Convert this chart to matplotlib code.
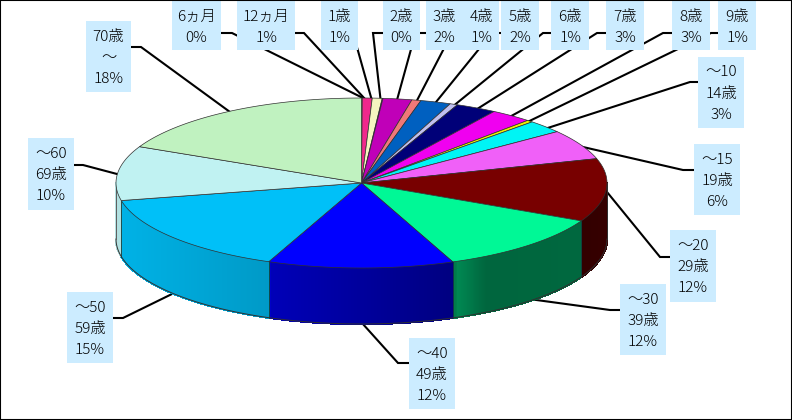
import numpy as np
import matplotlib
matplotlib.use("Agg")
import matplotlib.pyplot as plt
from matplotlib.patches import Rectangle

plt.rcParams['font.family'] = ['Noto Sans CJK JP', 'DejaVu Sans']

# slice shares in percent (clockwise from 12 o'clock)
values = [0.05, 0.65, 0.65, 0.05, 1.9, 0.6, 2.0, 0.5, 2.7, 2.75, 0.4, 2.45,
          5.7, 12.0, 11.6, 12.25, 15.55, 10.35, 18.0]
colors = ['#FF9900', '#F0288C', '#F5F5C0', '#CC99FF', '#C000B8', '#F07878',
          '#0060C0', '#C0C0F0', '#000078', '#F000F0', '#F0F000', '#00F5F5',
          '#F060F8', '#780000', '#00F896', '#0000FF', '#00C0F8', '#C0F2F2',
          '#C0F2C0']
labels = [['6ヵ月', '0%'], ['12ヵ月', '1%'], ['1歳', '1%'], ['2歳', '0%'],
          ['3歳', '2%'], ['4歳', '1%'], ['5歳', '2%'], ['6歳', '1%'],
          ['7歳', '3%'], ['8歳', '3%'], ['9歳', '1%'],
          ['～10', '14歳', '3%'], ['～15', '19歳', '6%'],
          ['～20', '29歳', '12%'], ['～30', '39歳', '12%'],
          ['～40', '49歳', '12%'], ['～50', '59歳', '15%'],
          ['～60', '69歳', '10%'], ['70歳', '～', '18%']]

# label boxes: left, top, width, height in pixels
boxes = [(172, 0, 49, 50), (237, 0, 58, 50), (321, 0, 37, 50), (383, 0, 37, 50),
         (426, 0, 37, 50), (463, 0, 36, 50), (501, 0, 38, 50), (551, 0, 38, 50),
         (606, 0, 38, 50), (672, 0, 38, 50), (718, 0, 38, 50),
         (698, 57, 46, 71), (694, 144, 46, 71), (670, 230, 46, 72),
         (620, 284, 46, 71), (409, 338, 46, 71), (67, 292, 46, 71),
         (28, 138, 46, 72), (86, 21, 45, 71)]

# leader lines, box end -> elbow -> rim of the pie
leaders = [[(221, 33), (232, 33), (365, 99)], [(295, 33), (304, 33), (365, 99)],
           [(345, 33), (353, 33), (371.5, 99)], [(383, 33), (373, 33), (380.5, 99)],
           [(426, 33), (415.5, 33), (397, 100)], [(463, 33), (452, 33), (416.7, 101)],
           [(501, 33), (492, 33), (435, 103.3)], [(551, 33), (543, 33), (453.3, 106)],
           [(606, 33), (597, 33), (476.7, 109.3)], [(672, 33), (663, 33), (510, 116.7)],
           [(718, 33), (711, 33), (528, 121.7)], [(698, 82), (690, 82), (546.7, 128.3)],
           [(694, 170), (683, 170), (581.7, 146.7)], [(670, 257), (660, 257), (607, 192)],
           [(620, 310), (610, 310), (529, 299)], [(409, 363), (398, 363), (362, 323)],
           [(113, 318), (123, 318), (174, 293)], [(74, 165), (83, 165), (117, 174)],
           [(131, 47), (141, 47), (230, 112)]]

cx, cy, rx, ry, depth = 361.5, 183, 245.5, 85, 56


def rim(theta):
    t = np.radians(theta)
    return cx + rx * np.sin(t), cy - ry * np.cos(t)


def shade(x):
    # side wall gets darker to the right, with a small step at each big slice
    return np.interp(x, [116, 269, 270, 455, 456, 485, 582, 608],
                     [0.93, 0.8, 0.72, 0.5, 0.55, 0.41, 0.42, 0.45])


fig = plt.figure(figsize=(7.92, 4.2), dpi=100)
ax = fig.add_axes([0, 0, 1, 1])
ax.set_xlim(0, 792)
ax.set_ylim(420, 0)
ax.set_xticks([])
ax.set_yticks([])
for s in ax.spines.values():
    s.set_linewidth(1.5)
    s.set_color('black')
    s.set_zorder(20)

for pts in leaders:
    ax.plot([p[0] for p in pts], [p[1] for p in pts], color='black', lw=1.5,
            solid_joinstyle='miter', zorder=1)

edges = np.cumsum([0] + values) * 360 / sum(values)

# side wall, only the front half shows
for i, c in enumerate(colors):
    a0, a1 = max(edges[i], 90), min(edges[i + 1], 270)
    if a1 <= a0:
        continue
    steps = np.linspace(a0, a1, int((a1 - a0) * 4) + 2)
    rgb = np.array(matplotlib.colors.to_rgb(c))
    for t0, t1 in zip(steps[:-1], steps[1:]):
        x0, y0 = rim(t0)
        x1, y1 = rim(t1)
        col = rgb * shade((x0 + x1) / 2)
        ax.fill([x0, x1, x1, x0], [y0, y1, y1 + depth, y0 + depth],
                color=col, lw=1, antialiased=False, zorder=2)
    for t in (a0, a1):
        x, y = rim(t)
        ax.plot([x, x], [y, y + depth], color='#104040', lw=0.6, alpha=0.8, zorder=3)

front = np.linspace(90, 270, 200)
fx, fy = rim(front)
ax.plot(fx, fy + depth, color='#303030', lw=0.7, zorder=3)
ax.plot([fx[0], fx[0]], [fy[0], fy[0] + depth], color='#303030', lw=0.7, zorder=3)
ax.plot([fx[-1], fx[-1]], [fy[-1], fy[-1] + depth], color='#606060', lw=0.7, zorder=3)

# top face
for i, c in enumerate(colors):
    t = np.linspace(edges[i], edges[i + 1], max(int(edges[i + 1] - edges[i]) * 2, 2))
    x, y = rim(t)
    ax.fill(np.r_[cx, x], np.r_[cy, y], facecolor=c, edgecolor='#303030', lw=0.5,
            joinstyle='round', zorder=4)

for (x, y, w, h), lines in zip(boxes, labels):
    ax.add_patch(Rectangle((x, y), w, h, facecolor='#CCECFF', edgecolor='none', zorder=5))
    top = y + 15.5 if len(lines) == 3 else y + 16.5
    for n, line in enumerate(lines):
        ax.text(x + w / 2, top + 21.3 * n, line, ha='center', va='center',
                fontsize=11, fontweight='light', color='black', zorder=6)

fig.savefig('out.png', dpi=100)
